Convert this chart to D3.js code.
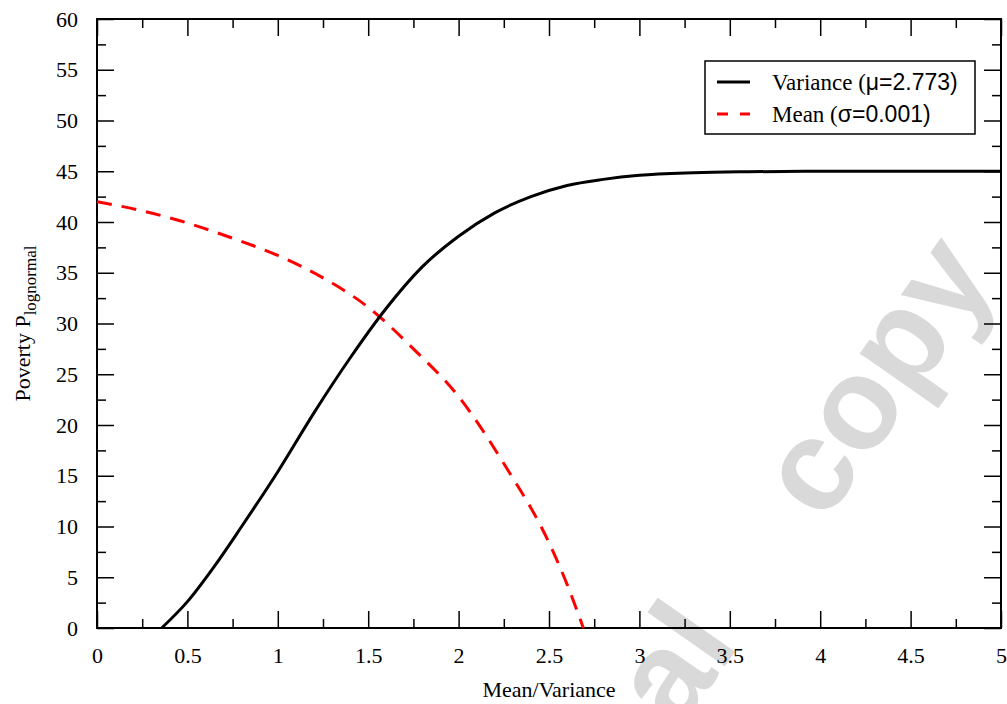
<!DOCTYPE html>
<html>
<head>
<meta charset="utf-8">
<script src="https://cdn.jsdelivr.net/npm/d3@7"></script>
<style>
    body { margin: 0; background: #fff; }
    text { font-family: "Liberation Serif", "Times New Roman", serif; fill: #000; }
    .greek { font-family: "Liberation Sans", Arial, sans-serif; }
    .tick line { stroke: #000; stroke-width: 1.5px; }
    .tick text { font-size: 22px; }
</style>
</head>
<body>
<script>
//=====================================================================//
//  DATA
//=====================================================================//

    // Variance curve (mu = 2.773)
    var varianceX = [0.358, 0.5, 0.65, 0.8, 1, 1.2, 1.4, 1.6, 1.8, 2, 2.2, 2.4, 2.6, 2.8, 3, 3.3, 3.6, 4, 4.5, 5];
    var varianceY = [0, 2.6, 6.1, 10, 15.4, 21.2, 26.6, 31.5, 35.6, 38.6, 40.9, 42.5, 43.6, 44.2, 44.6, 44.85, 44.95, 45, 45, 45];

    // Mean curve (sigma = 0.001)
    var meanX = [0, 0.25, 0.5, 0.75, 1, 1.25, 1.5, 1.75, 2, 2.25, 2.5, 2.6, 2.69];
    var meanY = [42, 41.1, 39.9, 38.4, 36.7, 34.5, 31.6, 27.5, 22.8, 16.2, 8.4, 4.3, 0];

    // Axis ticks
    var xTicks = [0, 0.5, 1, 1.5, 2, 2.5, 3, 3.5, 4, 4.5, 5];
    var xMinor = [0.25, 0.75, 1.25, 1.75, 2.25, 2.75, 3.25, 3.75, 4.25, 4.75];
    var yTicks = [0, 5, 10, 15, 20, 25, 30, 35, 40, 45, 50, 55, 60];
    var yMinor = [2.5, 7.5, 12.5, 17.5, 22.5, 27.5, 32.5, 37.5, 42.5, 47.5, 52.5, 57.5];

    // Legend
    var legendNames = ["Variance (", "Mean ("];
    var legendParams = ["\u03bc=2.773)", "\u03c3=0.001)"];
    var legendColors = ["#000000", "#ff0000"];

//=====================================================================//
//  SVG SETUP
//=====================================================================//

    var margin = {left: 97, right: 6, top: 19, bottom: 76},
        width = 1007 - margin.left - margin.right,
        height = 704 - margin.top - margin.bottom;

    var root = d3.select("body")
        .append("svg")
        .attr("width", 1007)
        .attr("height", 704);

    // watermark sits under everything else
    root.append("text")
        .attr("transform", "translate(998,276) rotate(-55)")
        .attr("text-anchor", "end")
        .style("font-family", "'Liberation Sans', Arial, sans-serif")
        .style("font-weight", "bold")
        .style("font-size", "130px")
        .style("word-spacing", "110px")
        .style("fill", "#d9d9d9")
        .text("personal copy");

    var svg = root.append("g")
        .attr("transform", "translate(" + margin.left + "," + margin.top + ")");

    var x = d3.scaleLinear().domain([0, 5]).range([0, width]);
    var y = d3.scaleLinear().domain([0, 60]).range([height, 0]);

//=====================================================================//
//  AXES (ticks pointing inward on all four sides)
//=====================================================================//

    svg.append("g")
        .attr("transform", "translate(0," + height + ")")
        .call(d3.axisBottom(x).tickValues(xTicks).tickSize(-17).tickPadding(19)
              .tickFormat(d3.format("")));
    svg.append("g")
        .attr("transform", "translate(0," + height + ")")
        .call(d3.axisBottom(x).tickValues(xMinor).tickSize(-9).tickFormat(""));
    svg.append("g")
        .call(d3.axisTop(x).tickValues(xTicks).tickSize(-17).tickFormat(""));
    svg.append("g")
        .call(d3.axisTop(x).tickValues(xMinor).tickSize(-9).tickFormat(""));

    svg.append("g")
        .call(d3.axisLeft(y).tickValues(yTicks).tickSize(-17).tickPadding(19));
    svg.append("g")
        .call(d3.axisLeft(y).tickValues(yMinor).tickSize(-9).tickFormat(""));
    svg.append("g")
        .attr("transform", "translate(" + width + ",0)")
        .call(d3.axisRight(y).tickValues(yTicks).tickSize(-17).tickFormat(""));
    svg.append("g")
        .attr("transform", "translate(" + width + ",0)")
        .call(d3.axisRight(y).tickValues(yMinor).tickSize(-9).tickFormat(""));

    svg.selectAll(".domain").remove();
    svg.selectAll(".tick text").attr("font-family", null).attr("font-size", null);

    // frame
    svg.append("rect")
        .attr("width", width)
        .attr("height", height)
        .attr("fill", "none")
        .attr("stroke", "#000")
        .attr("stroke-width", 2);

    // axis titles
    svg.append("text")
        .attr("x", width / 2)
        .attr("y", height + 69)
        .attr("text-anchor", "middle")
        .style("font-size", "22px")
        .text("Mean/Variance");

    var ytitle = svg.append("text")
        .attr("transform", "translate(-67," + (height / 2) + ") rotate(-90)")
        .attr("text-anchor", "middle")
        .style("font-size", "22px");
    ytitle.append("tspan").text("Poverty P");
    ytitle.append("tspan").attr("dy", "0.35em").style("font-size", "17px").text("lognormal");

//=====================================================================//
//  CURVES
//=====================================================================//

    var line = d3.line()
        .x(function(d) { return x(d[0]); })
        .y(function(d) { return y(d[1]); })
        .curve(d3.curveMonotoneX);

    svg.append("path")
        .datum(d3.zip(meanX, meanY))
        .attr("d", line)
        .attr("fill", "none")
        .attr("stroke", "#ff0000")
        .attr("stroke-width", 3)
        .attr("stroke-dasharray", "15,10");

    svg.append("path")
        .datum(d3.zip(varianceX, varianceY))
        .attr("d", line)
        .attr("fill", "none")
        .attr("stroke", "#000")
        .attr("stroke-width", 3);

//=====================================================================//
//  LEGEND
//=====================================================================//

    var legend = root.append("g").attr("transform", "translate(705,61)");

    legend.append("rect")
        .attr("width", 270)
        .attr("height", 73)
        .attr("fill", "#fff")
        .attr("stroke", "#000")
        .attr("stroke-width", 1.5);

    var rows = legend.selectAll("g.row")
        .data(legendNames)
        .join("g")
        .attr("class", "row")
        .attr("transform", function(d, i) { return "translate(0," + (21 + i * 32) + ")"; });

    rows.append("line")
        .attr("x1", 12)
        .attr("x2", 45)
        .attr("stroke", function(d, i) { return legendColors[i]; })
        .attr("stroke-width", 3)
        .attr("stroke-dasharray", function(d, i) { return i == 1 ? "11,12" : null; });

    var labels = rows.append("text")
        .attr("x", 67)
        .attr("y", 8)
        .style("font-size", "23px");
    labels.append("tspan").text(function(d) { return d; });
    labels.append("tspan").attr("class", "greek")
        .text(function(d, i) { return legendParams[i]; });
</script>
</body>
</html>
